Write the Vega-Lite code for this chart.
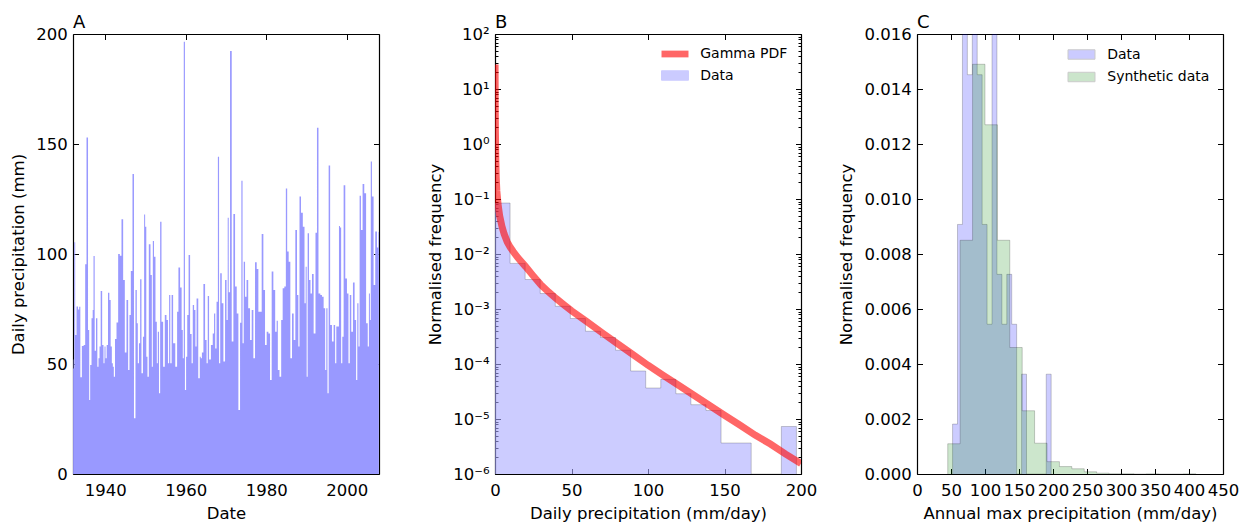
{
  "$schema": "https://vega.github.io/schema/vega-lite/v6.json",
  "background": "white",
  "padding": {"left": 10, "top": 14, "right": 5, "bottom": 5},
  "spacing": 116,
  "bounds": "flush",
  "resolve": {"scale": {"color": "independent"}, "legend": {"color": "independent"}},
  "config": {
    "font": "DejaVu Sans",
    "view": {"stroke": null},
    "axis": {"domain": true, "domainColor": "black", "domainWidth": 1.2, "grid": false, "ticks": true, "tickColor": "black", "tickWidth": 1, "tickSize": -5.5, "labelPadding": 11.3, "labelFont": "DejaVu Sans", "labelFontSize": 16.5, "labelColor": "black", "titleFont": "DejaVu Sans", "titleFontSize": 16.5, "titleFontWeight": "normal", "titleColor": "black", "labelFlush": false, "labelOverlap": false, "zindex": 1},
    "axisX": {"labelPadding": 14, "titlePadding": 6},
    "axisY": {"titlePadding": 9},
    "title": {"anchor": "start", "frame": "group", "fontSize": 18, "fontWeight": "normal", "font": "DejaVu Sans", "color": "black", "offset": 7, "dy": 13, "baseline": "alphabetic"},
    "legend": {"title": null, "orient": "top-right", "offset": 13, "labelFontSize": 14, "labelFont": "DejaVu Sans", "labelColor": "black", "symbolSize": 182, "labelOffset": 18.25, "rowPadding": 7.5, "padding": 0}
  },
  "datasets": {
    "a": [
      {"t":1932.02,"p":52},{"t":1932.22,"p":48},{"t":1932.42,"p":105.3},{"t":1932.67,"p":63.2},{"t":1933.08,"p":76.1},{"t":1933.41,"p":74.8},{"t":1933.66,"p":76},{"t":1933.99,"p":44},{"t":1934.41,"p":58.2},{"t":1934.9,"p":58.6},{"t":1935.15,"p":95.3},{"t":1935.56,"p":152.9},{"t":1935.9,"p":65.5},{"t":1936.14,"p":33.6},{"t":1936.39,"p":49.5},{"t":1936.81,"p":70.8},{"t":1936.97,"p":74.5},{"t":1937.22,"p":99.1},{"t":1937.55,"p":56},{"t":1937.88,"p":70.8},{"t":1938.21,"p":48.8},{"t":1938.46,"p":52.6},{"t":1938.71,"p":57.9},{"t":1939.04,"p":83.2},{"t":1939.45,"p":58.6},{"t":1939.7,"p":50.3},{"t":1939.95,"p":57.9},{"t":1940.2,"p":52.6},{"t":1940.53,"p":58.6},{"t":1940.86,"p":82.4},{"t":1941.19,"p":79.1},{"t":1941.52,"p":57.9},{"t":1941.77,"p":50.3},{"t":1942.02,"p":48.8},{"t":1942.26,"p":44.2},{"t":1942.6,"p":61.4},{"t":1943.01,"p":68.9},{"t":1943.42,"p":100},{"t":1943.84,"p":99.2},{"t":1944.25,"p":115.8},{"t":1944.66,"p":88.2},{"t":1945.08,"p":55.2},{"t":1945.49,"p":79.1},{"t":1945.9,"p":47.3},{"t":1946.15,"p":72.3},{"t":1946.57,"p":92.3},{"t":1946.98,"p":136.4},{"t":1947.31,"p":25.3},{"t":1947.72,"p":83.6},{"t":1947.97,"p":68.5},{"t":1948.22,"p":50.3},{"t":1948.55,"p":59.4},{"t":1948.8,"p":88.5},{"t":1949.21,"p":45.8},{"t":1949.54,"p":62.4},{"t":1949.79,"p":118},{"t":1950.04,"p":112.4},{"t":1950.37,"p":53.3},{"t":1950.62,"p":44.2},{"t":1951.04,"p":104.4},{"t":1951.45,"p":90.5},{"t":1951.7,"p":48.8},{"t":1951.95,"p":105.9},{"t":1952.28,"p":98.8},{"t":1952.69,"p":69.2},{"t":1952.94,"p":50.3},{"t":1953.19,"p":64.7},{"t":1953.52,"p":36.7},{"t":1953.77,"p":114.7},{"t":1954.18,"p":69.2},{"t":1954.59,"p":48.8},{"t":1955.01,"p":72.3},{"t":1955.42,"p":70},{"t":1955.75,"p":50.3},{"t":1956,"p":81.4},{"t":1956.33,"p":50.3},{"t":1956.66,"p":81.4},{"t":1957.07,"p":59.4},
      {"t":1957.73,"p":48.8},{"t":1957.98,"p":73.8},{"t":1958.39,"p":93.9},{"t":1958.81,"p":84.8},{"t":1959.14,"p":65.5},{"t":1959.39,"p":52.6},{"t":1959.63,"p":196.5},{"t":1959.97,"p":38.2},{"t":1960.21,"p":53.3},{"t":1960.54,"p":72.3},{"t":1960.88,"p":99.5},{"t":1961.29,"p":63.6},{"t":1961.62,"p":50.3},{"t":1961.87,"p":76.8},{"t":1962.28,"p":74.5},{"t":1962.53,"p":57.9},{"t":1962.86,"p":79.8},{"t":1963.36,"p":43.5},{"t":1963.61,"p":53.3},{"t":1963.85,"p":52.6},{"t":1964.18,"p":55.2},{"t":1964.6,"p":86.4},{"t":1965.01,"p":60.9},{"t":1965.34,"p":50.3},{"t":1965.59,"p":80.9},{"t":1966,"p":52.1},{"t":1966.5,"p":58.6},{"t":1966.91,"p":63.9},{"t":1967.16,"p":73},{"t":1967.49,"p":57.1},{"t":1967.82,"p":78.3},{"t":1968.15,"p":144.2},{"t":1968.4,"p":50.3},{"t":1968.73,"p":91.2},{"t":1969.15,"p":77.6},{"t":1969.56,"p":51.1},{"t":1969.97,"p":88.2},{"t":1970.3,"p":70},{"t":1970.55,"p":116.5},{"t":1970.8,"p":82.6},{"t":1971.21,"p":192.3},{"t":1971.63,"p":60.2},{"t":1972.04,"p":118.2},{"t":1972.46,"p":85.2},{"t":1972.87,"p":73},{"t":1973.28,"p":29.1},{"t":1973.7,"p":68.8},{"t":1973.94,"p":133.3},{"t":1974.28,"p":59.4},{"t":1974.52,"p":96.5},{"t":1974.94,"p":80.6},{"t":1975.27,"p":88.2},{"t":1975.76,"p":75.3},{"t":1976.18,"p":60.9},{"t":1976.59,"p":74.5},{"t":1977,"p":52.6},{"t":1977.42,"p":96.2},{"t":1977.83,"p":93.2},{"t":1978.25,"p":73.8},{"t":1978.66,"p":73.8},{"t":1979.07,"p":109.1},{"t":1979.49,"p":83.6},{"t":1979.9,"p":58.6},{"t":1980.31,"p":64.7},{"t":1980.73,"p":63.9},{"t":1981.14,"p":42.7},{"t":1981.55,"p":92},{"t":1981.97,"p":83.6},
      {"t":1982.46,"p":64.7},{"t":1982.71,"p":69.7},{"t":1983.04,"p":47.3},{"t":1983.54,"p":44.2},{"t":1983.87,"p":70},{"t":1984.28,"p":84.4},{"t":1984.7,"p":85.2},{"t":1985.03,"p":129.8},{"t":1985.36,"p":101.1},{"t":1985.77,"p":96.5},{"t":1986.19,"p":52.6},{"t":1986.6,"p":73},{"t":1987.01,"p":60.9},{"t":1987.43,"p":110.9},{"t":1987.84,"p":81.4},{"t":1988.09,"p":57.9},{"t":1988.42,"p":126.1},{"t":1988.83,"p":118.8},{"t":1989.33,"p":112.4},{"t":1989.66,"p":77.6},{"t":1989.91,"p":94.2},{"t":1990.16,"p":44.2},{"t":1990.4,"p":109.4},{"t":1990.82,"p":88.2},{"t":1991.15,"p":82.1},{"t":1991.56,"p":90.9},{"t":1991.98,"p":63.9},{"t":1992.47,"p":109.7},{"t":1992.72,"p":157.4},{"t":1993.22,"p":82.1},{"t":1993.63,"p":81.4},{"t":1994.04,"p":80.6},{"t":1994.46,"p":75.3},{"t":1994.79,"p":47.3},{"t":1995.04,"p":75.3},{"t":1995.37,"p":36.7},{"t":1995.62,"p":140.2},{"t":1996.11,"p":67.7},{"t":1996.52,"p":60.2},{"t":1996.94,"p":67.7},{"t":1997.27,"p":50.3},{"t":1997.52,"p":67},{"t":1997.93,"p":67},{"t":1998.18,"p":112.7},{"t":1998.43,"p":112.1},{"t":1998.76,"p":50.3},{"t":1999.01,"p":62.4},{"t":1999.42,"p":131.2},{"t":1999.83,"p":88.9},{"t":2000.25,"p":82.1},{"t":2000.58,"p":50.3},{"t":2000.91,"p":81.4},{"t":2001.32,"p":64.7},{"t":2001.74,"p":87.1},{"t":2002.15,"p":70},{"t":2002.48,"p":42.7},{"t":2002.73,"p":77.6},{"t":2003.06,"p":57.9},{"t":2003.31,"p":126.5},{"t":2003.72,"p":110.9},{"t":2004.13,"p":131.8},{"t":2004.55,"p":127.6},{"t":2005.04,"p":68.5},{"t":2005.37,"p":57.9},{"t":2005.62,"p":82.1},{"t":2005.87,"p":70},{"t":2006.04,"p":142},{"t":2006.45,"p":126.1},{"t":2006.86,"p":85.9},{"t":2007.28,"p":110.2},{"t":2007.7,"p":103},{"t":2007.97,"p":110}
    ],
    "bh": [
      {"e":0,"d":0.0845},{"e":9.85,"d":0.00675},{"e":19.7,"d":0.00344},{"e":29.55,"d":0.00191},{"e":39.4,"d":0.00112},{"e":49.25,"d":0.000671},{"e":59.1,"d":0.000394},{"e":68.95,"d":0.000303},{"e":78.8,"d":0.000178},{"e":88.65,"d":0.0000746},{"e":98.5,"d":0.0000366},{"e":108.35,"d":0.0000526},{"e":118.2,"d":0.0000288},{"e":128.05,"d":0.0000182},{"e":137.9,"d":0.0000143},{"e":147.75,"d":0.00000366},{"e":157.6,"d":0.00000366},{"e":167.45,"d":0.000001},{"e":177.3,"d":0.000001},{"e":187.15,"d":0.0000073},{"e":197,"d":0.000001}
    ],
    "bp": [
      {"x":0.05,"f":28},{"x":0.15,"f":5},{"x":0.3,"f":1.5},{"x":0.5,"f":0.6},{"x":0.8,"f":0.25},{"x":1.2,"f":0.14},{"x":2,"f":0.08},{"x":3,"f":0.05},{"x":4.5,"f":0.032},{"x":6,"f":0.023},{"x":8,"f":0.0166},{"x":10,"f":0.0132},{"x":12,"f":0.011},{"x":15,"f":0.0085},{"x":20,"f":0.0059},{"x":25,"f":0.004},{"x":30,"f":0.00275},{"x":35,"f":0.00204},{"x":40,"f":0.00155},{"x":45,"f":0.0012},{"x":50,"f":0.00093},{"x":60,"f":0.00059},{"x":70,"f":0.00037},{"x":80,"f":0.000235},{"x":90,"f":0.00015},{"x":100,"f":0.000095},{"x":110,"f":0.000062},{"x":120,"f":0.000041},{"x":130,"f":0.000027},{"x":140,"f":0.0000178},{"x":150,"f":0.0000117},{"x":160,"f":0.0000078},{"x":170,"f":0.0000051},{"x":180,"f":0.0000035},{"x":190,"f":0.0000023},{"x":200,"f":0.00000155}
    ],
    "cd": [
      {"e":52.3,"d":0},{"e":52.3,"d":0.001815},{"e":59.55,"d":0.009075},{"e":66.8,"d":0.01815},{"e":74.05,"d":0.01452},{"e":81.3,"d":0.016335},{"e":88.55,"d":0.01452},{"e":95.8,"d":0.009075},{"e":103.05,"d":0.005445},{"e":110.3,"d":0.016335},{"e":117.55,"d":0.00726},{"e":124.8,"d":0.005445},{"e":132.05,"d":0.00726},{"e":139.3,"d":0.005445},{"e":146.55,"d":0},{"e":153.8,"d":0.00363},{"e":161.05,"d":0},{"e":168.3,"d":0},{"e":175.55,"d":0},{"e":182.8,"d":0},{"e":190.05,"d":0.00363},{"e":197.3,"d":0}
    ],
    "cs": [
      {"e":45.2,"d":0},{"e":45.2,"d":0.0011},{"e":63.45,"d":0.0085},{"e":81.7,"d":0.0149},{"e":99.95,"d":0.0127},{"e":118.2,"d":0.0085},{"e":136.45,"d":0.0046},{"e":154.7,"d":0.0023},{"e":172.95,"d":0.00112},{"e":191.2,"d":0.00045},{"e":209.45,"d":0.00027},{"e":227.7,"d":0.00019},{"e":245.95,"d":0.00008},{"e":264.2,"d":0.00003},{"e":282.45,"d":0.00001},{"e":300.7,"d":0.00001},{"e":318.95,"d":0},{"e":337.2,"d":0.000005},{"e":355.45,"d":0},{"e":373.7,"d":0},{"e":391.95,"d":0.000005},{"e":410.2,"d":0}
    ]
  },
  "hconcat": [
    {
      "width": 306, "height": 440,
      "title": {"text": "A"},
      "data": {"name": "a"},
      "layer": [
        {
          "mark": {"type": "area", "interpolate": "step", "color": "#9999ff"},
          "encoding": {
            "x": {"field": "t", "type": "quantitative", "scale": {"domain": [1932, 2008], "nice": false, "zero": false}, "axis": {"values": [1940, 1960, 1980, 2000], "format": "d", "title": "Date"}},
            "y": {"field": "p", "type": "quantitative", "scale": {"domain": [0, 200], "nice": false}, "axis": {"values": [0, 50, 100, 150, 200], "title": "Daily precipitation (mm)"}},
            "y2": {"datum": 0}
          }
        },
        {
          "mark": {"type": "point", "opacity": 0},
          "encoding": {
            "x": {"field": "t", "type": "quantitative", "axis": {"orient": "top", "values": [1940, 1960, 1980, 2000], "labels": false, "title": null}},
            "y": {"field": "p", "type": "quantitative", "axis": {"orient": "right", "values": [0, 50, 100, 150, 200], "labels": false, "title": null}}
          }
        }
      ],
      "resolve": {"axis": {"x": "independent", "y": "independent"}}
    },
    {
      "width": 306, "height": 440,
      "title": {"text": "B"},
      "layer": [
        {
          "data": {"name": "bh"},
          "mark": {"type": "area", "interpolate": "step-after", "fillOpacity": 0.6, "clip": true},
          "encoding": {
            "x": {"field": "e", "type": "quantitative", "scale": {"domain": [0, 200], "nice": false, "zero": false}, "axis": {"values": [0, 50, 100, 150, 200], "title": "Daily precipitation (mm/day)"}},
            "y": {"field": "d", "type": "quantitative", "scale": {"type": "log", "domain": [0.000001, 100], "nice": false}, "axis": {"values": [0.000001, 0.00001, 0.0001, 0.001, 0.01, 0.1, 1, 10, 100], "labelExpr": "'10' + (round(log(datum.value)/LN10) < 0 ? '⁻' : '') + ['⁰','¹','²','³','⁴','⁵','⁶','⁷','⁸','⁹'][abs(round(log(datum.value)/LN10))]", "title": "Normalised frequency"}},
            "y2": {"datum": 0.000001},
            "color": {"datum": "Data", "type": "nominal", "scale": {"domain": ["Gamma PDF", "Data"], "range": ["#ff0000", "#aaaaff"]},
              "legend": {"symbolOpacity": 0.6, "symbolStrokeColor": "#6666aa", "symbolStrokeWidth": 1, "encode": {"symbols": {"update": {
                "shape": {"signal": "datum.value === 'Data' ? 'M-2,-0.7H2V0.7H-2Z' : 'M-2,-0.5H2V0.5H-2Z'"},
                "strokeWidth": {"signal": "datum.value === 'Data' ? 1 : 0"}
              }}}}}
          }
        },
        {
          "data": {"name": "bh"},
          "mark": {"type": "line", "interpolate": "step-after", "color": "black", "strokeWidth": 1, "opacity": 0.2, "clip": true},
          "encoding": {
            "x": {"field": "e", "type": "quantitative", "axis": null},
            "y": {"field": "d", "type": "quantitative", "axis": null}
          }
        },
        {
          "data": {"name": "bp"},
          "mark": {"type": "line", "strokeWidth": 7, "opacity": 0.6, "clip": true},
          "encoding": {
            "x": {"field": "x", "type": "quantitative", "axis": null},
            "y": {"field": "f", "type": "quantitative", "axis": null},
            "color": {"datum": "Gamma PDF", "type": "nominal", "scale": {"domain": ["Gamma PDF", "Data"], "range": ["#ff0000", "#aaaaff"]},
              "legend": {"symbolOpacity": 0.6, "symbolStrokeColor": "#6666aa", "symbolStrokeWidth": 1, "encode": {"symbols": {"update": {
                "shape": {"signal": "datum.value === 'Data' ? 'M-2,-0.7H2V0.7H-2Z' : 'M-2,-0.5H2V0.5H-2Z'"},
                "strokeWidth": {"signal": "datum.value === 'Data' ? 1 : 0"}
              }}}}}
          }
        },
        {
          "data": {"name": "bh"},
          "mark": {"type": "point", "opacity": 0},
          "encoding": {
            "x": {"field": "e", "type": "quantitative", "axis": {"orient": "top", "values": [0, 50, 100, 150, 200], "labels": false, "title": null}},
            "y": {"field": "d", "type": "quantitative", "axis": {"orient": "right", "values": [0.000001, 0.00001, 0.0001, 0.001, 0.01, 0.1, 1, 10, 100], "labels": false, "title": null}}
          }
        },
        {
          "data": {"name": "bh"},
          "mark": {"type": "point", "opacity": 0},
          "encoding": {
            "x": {"field": "e", "type": "quantitative", "axis": null},
            "y": {"field": "d", "type": "quantitative", "axis": {"orient": "left", "domain": false, "tickSize": -3, "values": [2e-6,3e-6,4e-6,5e-6,6e-6,7e-6,8e-6,9e-6,2e-5,3e-5,4e-5,5e-5,6e-5,7e-5,8e-5,9e-5,2e-4,3e-4,4e-4,5e-4,6e-4,7e-4,8e-4,9e-4,2e-3,3e-3,4e-3,5e-3,6e-3,7e-3,8e-3,9e-3,0.02,0.03,0.04,0.05,0.06,0.07,0.08,0.09,0.2,0.3,0.4,0.5,0.6,0.7,0.8,0.9,2,3,4,5,6,7,8,9,20,30,40,50,60,70,80,90], "labels": false, "title": null}}
          }
        },
        {
          "data": {"name": "bh"},
          "mark": {"type": "point", "opacity": 0},
          "encoding": {
            "x": {"field": "e", "type": "quantitative", "axis": null},
            "y": {"field": "d", "type": "quantitative", "axis": {"orient": "right", "domain": false, "tickSize": -3, "values": [2e-6,3e-6,4e-6,5e-6,6e-6,7e-6,8e-6,9e-6,2e-5,3e-5,4e-5,5e-5,6e-5,7e-5,8e-5,9e-5,2e-4,3e-4,4e-4,5e-4,6e-4,7e-4,8e-4,9e-4,2e-3,3e-3,4e-3,5e-3,6e-3,7e-3,8e-3,9e-3,0.02,0.03,0.04,0.05,0.06,0.07,0.08,0.09,0.2,0.3,0.4,0.5,0.6,0.7,0.8,0.9,2,3,4,5,6,7,8,9,20,30,40,50,60,70,80,90], "labels": false, "title": null}}
          }
        }
      ],
      "resolve": {"axis": {"x": "independent", "y": "independent"}}
    },
    {
      "width": 306, "height": 440,
      "title": {"text": "C"},
      "layer": [
        {
          "data": {"name": "cd"},
          "mark": {"type": "area", "interpolate": "step-after", "fillOpacity": 0.2, "clip": true},
          "encoding": {
            "x": {"field": "e", "type": "quantitative", "scale": {"domain": [0, 450], "nice": false, "zero": false}, "axis": {"values": [0, 50, 100, 150, 200, 250, 300, 350, 400, 450], "format": "d", "title": "Annual max precipitation (mm/day)"}},
            "y": {"field": "d", "type": "quantitative", "scale": {"domain": [0, 0.016], "nice": false, "clamp": true}, "axis": {"values": [0, 0.002, 0.004, 0.006, 0.008, 0.01, 0.012, 0.014, 0.016], "format": ".3f", "title": "Normalised frequency"}},
            "y2": {"datum": 0},
            "color": {"datum": "Data", "type": "nominal", "scale": {"domain": ["Data", "Synthetic data"], "range": ["#0000ff", "#008000"]},
              "legend": {"symbolOpacity": 0.2, "symbolStrokeColor": "black", "symbolStrokeWidth": 1, "encode": {"symbols": {"update": {
                "shape": {"value": "M-2,-0.7H2V0.7H-2Z"}
              }}}}}
          }
        },
        {
          "data": {"name": "cd"},
          "mark": {"type": "line", "interpolate": "step-after", "color": "black", "strokeWidth": 1, "opacity": 0.2, "clip": true},
          "encoding": {
            "x": {"field": "e", "type": "quantitative", "axis": null},
            "y": {"field": "d", "type": "quantitative", "axis": null}
          }
        },
        {
          "data": {"name": "cs"},
          "mark": {"type": "area", "interpolate": "step-after", "fillOpacity": 0.2, "clip": true},
          "encoding": {
            "x": {"field": "e", "type": "quantitative", "axis": null},
            "y": {"field": "d", "type": "quantitative", "axis": null},
            "y2": {"datum": 0},
            "color": {"datum": "Synthetic data", "type": "nominal", "scale": {"domain": ["Data", "Synthetic data"], "range": ["#0000ff", "#008000"]},
              "legend": {"symbolOpacity": 0.2, "symbolStrokeColor": "black", "symbolStrokeWidth": 1, "encode": {"symbols": {"update": {
                "shape": {"value": "M-2,-0.7H2V0.7H-2Z"}
              }}}}}
          }
        },
        {
          "data": {"name": "cs"},
          "mark": {"type": "line", "interpolate": "step-after", "color": "black", "strokeWidth": 1, "opacity": 0.2, "clip": true},
          "encoding": {
            "x": {"field": "e", "type": "quantitative", "axis": null},
            "y": {"field": "d", "type": "quantitative", "axis": null}
          }
        },
        {
          "data": {"name": "cd"},
          "mark": {"type": "point", "opacity": 0},
          "encoding": {
            "x": {"field": "e", "type": "quantitative", "axis": {"orient": "top", "values": [0, 50, 100, 150, 200, 250, 300, 350, 400, 450], "labels": false, "title": null}},
            "y": {"field": "d", "type": "quantitative", "axis": {"orient": "right", "values": [0, 0.002, 0.004, 0.006, 0.008, 0.01, 0.012, 0.014, 0.016], "labels": false, "title": null}}
          }
        }
      ],
      "resolve": {"axis": {"x": "independent", "y": "independent"}}
    }
  ]
}
